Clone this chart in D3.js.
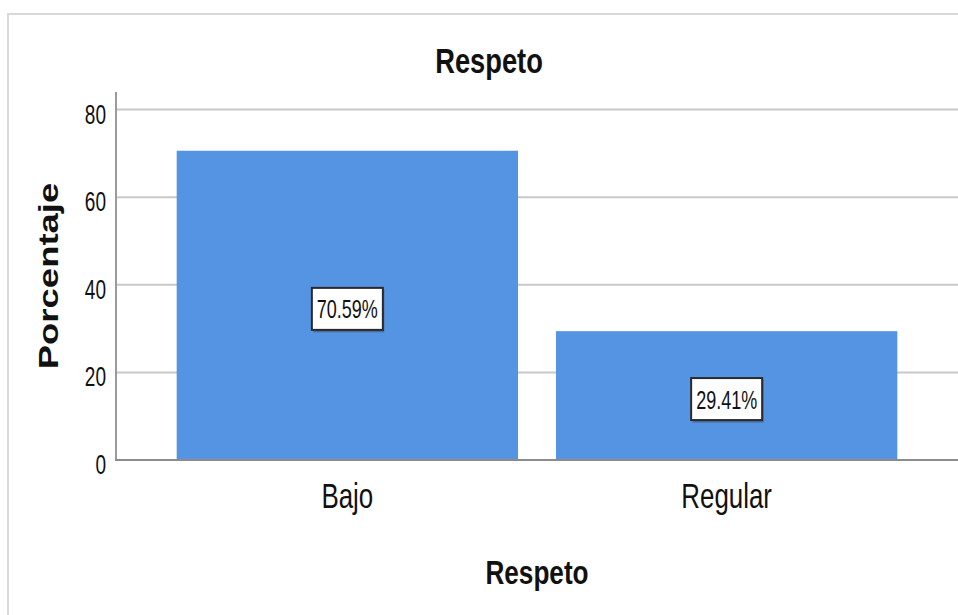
<!DOCTYPE html>
<html>
<head>
<meta charset="utf-8">
<script src="https://cdn.jsdelivr.net/npm/d3@7"></script>
<style>
	body { margin: 0; background: #ffffff; }
	#canvas { width: 958px; height: 615px; }
	text { font-family: "Liberation Sans", Arial, sans-serif; fill: #111111; }
</style>
</head>
<body>
<div id="canvas"></div>
<script>
var categories = ["Bajo", "Regular"];
var percentages = [70.59, 29.41];
var valueLabels = ["70.59%", "29.41%"];
var yTicks = [0, 20, 40, 60, 80];
var chartTitle = "Respeto";
var xTitle = "Respeto";
var yTitle = "Porcentaje";

drawVis();

function drawVis(){
	var w = 958;
	var h = 615;
	var svg = d3.select("#canvas")
		.append("svg")
		.attr("width", w)
		.attr("height", h);

	// light frame round the whole chart, runs off the right and bottom
	svg.append("rect")
		.attr("x", 8)
		.attr("y", 14)
		.attr("width", 1000)
		.attr("height", 700)
		.attr("fill", "none")
		.attr("stroke", "#d9d9d9")
		.attr("stroke-width", 2);

	var xScale = d3.scaleBand()
		.domain(categories)
		.range([116, 958])
		.paddingInner(0.1)
		.paddingOuter(0.16);

	var yScale = d3.scaleLinear()
		.domain([0, 84])
		.range([460, 92]);

	// gridlines
	svg.selectAll(".grid")
		.data(yTicks.filter(function(d){ return d > 0; }))
		.enter()
		.append("line")
		.attr("class", "grid")
		.attr("x1", 116)
		.attr("x2", w)
		.attr("y1", function(d){ return yScale(d); })
		.attr("y2", function(d){ return yScale(d); })
		.attr("stroke", "#c8c8c8")
		.attr("stroke-width", 2);

	// bars
	svg.selectAll(".bar")
		.data(percentages)
		.enter()
		.append("rect")
		.attr("class", "bar")
		.attr("x", function(d, i){ return xScale(categories[i]); })
		.attr("y", function(d){ return yScale(d); })
		.attr("width", xScale.bandwidth())
		.attr("height", function(d){ return yScale(0) - yScale(d); })
		.attr("fill", "#5594e3");

	// y axis line and baseline
	svg.append("line")
		.attr("x1", 116)
		.attr("x2", 116)
		.attr("y1", yScale(84))
		.attr("y2", yScale(0) + 1)
		.attr("stroke", "#9a9a9a")
		.attr("stroke-width", 2);

	svg.append("line")
		.attr("x1", 115)
		.attr("x2", w)
		.attr("y1", yScale(0))
		.attr("y2", yScale(0))
		.attr("stroke", "#8c8c8c")
		.attr("stroke-width", 2);

	// tick labels
	svg.selectAll(".tickLabel")
		.data(yTicks)
		.enter()
		.append("text")
		.attr("class", "tickLabel")
		.attr("transform", function(d){
			return "translate(106, " + (yScale(d) + 14) + ") scale(0.68, 1)";
		})
		.attr("text-anchor", "end")
		.attr("font-size", 28)
		.text(function(d){ return d; });

	// category labels
	svg.selectAll(".catLabel")
		.data(categories)
		.enter()
		.append("text")
		.attr("class", "catLabel")
		.attr("transform", function(d){
			return "translate(" + (xScale(d) + xScale.bandwidth() / 2) + ", 508) scale(0.74, 1)";
		})
		.attr("text-anchor", "middle")
		.attr("font-size", 35)
		.text(function(d){ return d; });

	// value label boxes in the middle of each bar
	var labels = svg.selectAll(".valueLabel")
		.data(percentages)
		.enter()
		.append("g")
		.attr("class", "valueLabel")
		.attr("transform", function(d, i){
			var cx = xScale(categories[i]) + xScale.bandwidth() / 2;
			var cy = (yScale(d) + yScale(0)) / 2 + 4;
			return "translate(" + cx + ", " + cy + ")";
		});

	labels.append("rect")
		.attr("x", -34)
		.attr("y", -20)
		.attr("width", 71)
		.attr("height", 43)
		.attr("fill", "#3a4a66")
		.attr("opacity", 0.5);

	labels.append("rect")
		.attr("x", -35.5)
		.attr("y", -21.5)
		.attr("width", 71)
		.attr("height", 42)
		.attr("fill", "#ffffff")
		.attr("stroke", "#2a2a2a")
		.attr("stroke-width", 2);

	labels.append("text")
		.attr("transform", "translate(0, 9) scale(0.72, 1)")
		.attr("text-anchor", "middle")
		.attr("font-size", 25)
		.text(function(d, i){ return valueLabels[i]; });

	// titles
	svg.append("text")
		.attr("transform", "translate(489, 73) scale(0.78, 1)")
		.attr("text-anchor", "middle")
		.attr("font-size", 35)
		.attr("font-weight", "bold")
		.text(chartTitle);

	svg.append("text")
		.attr("transform", "translate(537, 584) scale(0.78, 1)")
		.attr("text-anchor", "middle")
		.attr("font-size", 33.5)
		.attr("font-weight", "bold")
		.text(xTitle);

	svg.append("text")
		.attr("transform", "translate(58, 276) scale(0.76, 1) rotate(-90)")
		.attr("text-anchor", "middle")
		.attr("font-size", 36.5)
		.attr("font-weight", "bold")
		.text(yTitle);
}
</script>
</body>
</html>
